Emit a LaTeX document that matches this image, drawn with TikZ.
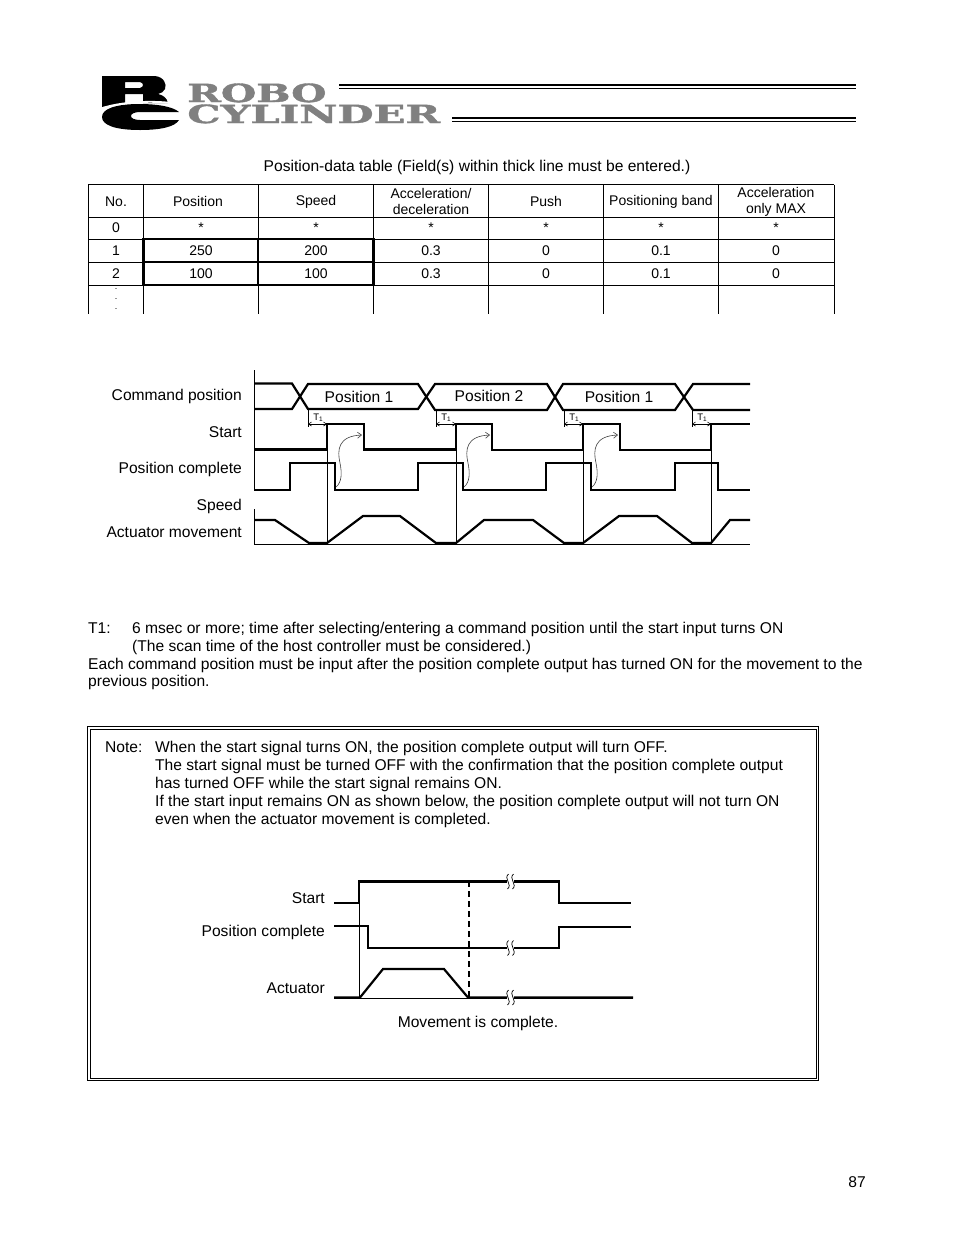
\documentclass[tikz,border=0pt]{standalone}
\usepackage{fontspec}
\setmainfont{Liberation Sans}
\newfontfamily\logofont[UprightFont=* Bold,FakeBold=1.5]{DejaVu Serif}
\usetikzlibrary{arrows.meta}
\definecolor{logogray}{gray}{0.5}
\tikzset{
 x=1pt,y=-1pt,
 txt/.style={inner sep=0pt,anchor=base west,font=\fontsize{15.6}{18}\selectfont},
 mid/.style={inner sep=0pt,font=\fontsize{15.6}{18}\selectfont},
 cell/.style={inner sep=0pt,align=center,font=\fontsize{14}{16}\selectfont},
 lab/.style={inner sep=0pt,anchor=base east,font=\fontsize{15.6}{18}\selectfont},
 tsub/.style={inner sep=0pt,font=\fontsize{9.5}{10}\selectfont},
 logotext/.style={inner sep=0pt,text=logogray,anchor=base west,font=\logofont\fontsize{25}{25}\selectfont},
 thin line/.style={line width=0.8pt,draw=black},
 grid line/.style={line width=1pt,draw=black},
 sig/.style={line width=2.2pt,draw=black,line join=miter},
 sigthick/.style={line width=2.6pt,draw=black},
 curvy/.style={line width=0.6pt,draw=black!75,-{Straight Barb[length=4pt,width=6pt]}},
 dim/.style={line width=0.6pt,draw=black,{Straight Barb[length=3pt,width=4pt]}-{Straight Barb[length=3pt,width=4pt]}},
}
\begin{document}
\begin{tikzpicture}
\useasboundingbox (0,0) rectangle (954,1235);
\fill[white] (0,0) rectangle (954,1235);
% logo
\fill[black,even odd rule] (102,76) -- (155,76) .. controls (164,77) and (167,84) .. (165,89) .. controls (164,92) and (161,93) .. (158,94) .. controls (163,95) and (167,98) .. (168,103) -- (143,103) -- (143,94) -- (125,94) -- (125,103) -- (102,107) -- cycle
 (125,82) -- (140,82) .. controls (144,83) and (144,87) .. (140,88) -- (125,88) -- cycle;
\fill[black] (179,112) .. controls (172,106) and (155,104) .. (140,104) .. controls (115,104) and (102,109) .. (102,117) .. controls (102,125) and (115,130) .. (140,130) .. controls (160,130) and (175,127) .. (179,120) -- (140,120) .. controls (128,120) and (128,112) .. (140,112) -- cycle;
\draw[white,line width=1.8pt] (100,109) .. controls (115,103) and (145,100) .. (172,103);
\node[logotext,xscale=1.62] (logoa) at (187,102) {ROBO};
\node[logotext,xscale=1.67] (logob) at (187,123) {CYLINDER};
\draw[line width=1.8pt] (339,85.2) -- (856,85.2);
\draw[line width=0.8pt] (339,88.6) -- (856,88.6);
\draw[line width=1.8pt] (452,118) -- (856,118);
\draw[line width=0.8pt] (452,121) -- (856,121);
% table
\node[mid] (ttl) at (477,167.5) {Position-data table (Field(s) within thick line must be entered.)};
\foreach \xx in {88,143,258,373,488,603,718,834} \draw[grid line] (\xx,184.5) -- (\xx,314);
\foreach \yy in {184.5,217,239,262,285} \draw[grid line] (88,\yy) -- (834,\yy);
\draw[sigthick] (143.5,239) rectangle (373.5,285);
\draw[sigthick] (143.5,262) -- (373.5,262) (258,239) -- (258,285);
\node[cell] (h0) at (116,201.5) {No.};
\node[cell] (h1) at (198,201.5) {Position};
\node[cell] (h2) at (316,201.5) {Speed};
\node[cell] (h3) at (431,201) {Acceleration/\\deceleration};
\node[cell] (h4) at (546,201.5) {Push};
\node[cell] (h5) at (661,201.5) {Positioning band};
\node[cell] (h6) at (776,201.5) {Acceleration\\only MAX};
\foreach \n/\t in {116/0,201/*,316/*,431/*,546/*,661/*,776/*} \node[cell] (r0c\n) at (\n,228) {\t};
\foreach \n/\t in {116/1,201/250,316/200,431/0.3,546/0,661/0.1,776/0} \node[cell] (r1c\n) at (\n,250.5) {\t};
\foreach \n/\t in {116/2,201/100,316/100,431/0.3,546/0,661/0.1,776/0} \node[cell] (r2c\n) at (\n,273.5) {\t};
\foreach \yy in {289,299,309} \node[inner sep=0pt,font=\fontsize{9}{9}\selectfont] (dot\yy) at (116,\yy) {.};
% timing labels
\node[lab] (l1) at (242,400) {Command position};
\node[lab] (l2) at (242,437) {Start};
\node[lab] (l3) at (242,473) {Position complete};
\node[lab] (l4) at (242,510) {Speed};
\node[lab] (l5) at (242,537) {Actuator movement};
\draw[thin line] (254.7,370) -- (254.7,491) (254.7,509) -- (254.7,544.5) -- (750,544.5);
% command
\draw[sig] (255,383.5) -- (292,383.5) -- (308,409) -- (418,409) -- (435,384) -- (547,384) -- (563,410) -- (675,410) -- (693,384) -- (750,384);
\draw[sig] (255,409) -- (292,409) -- (308,384) -- (418,384) -- (435,410) -- (547,410) -- (563,384) -- (675,384) -- (693,410) -- (750,410);
\node[mid] (p1) at (359,397) {Position 1};
\node[mid] (p2) at (489,395.5) {Position 2};
\node[mid] (p3) at (619,397) {Position 1};
% T1
\foreach \a/\b in {308/327,436/456,564/583,692/711}{
  \draw[thin line] (\a,409) -- (\a,427);
  \draw[dim] (\a,424) -- (\b,424);
  \node[tsub] (tn\a) at (\a+10,417.5) {T\raisebox{-1.5pt}{\fontsize{6.5}{7}\selectfont 1}};
}
% verticals
\foreach \xx in {327,456,583,711} \draw[thin line] (\xx,424) -- (\xx,544);
% start
\draw[sig] (255,449.5) -- (327,449.5) -- (327,424) -- (364,424) -- (364,449.5) -- (456,449.5) -- (456,424) -- (492,424) -- (492,450) -- (583,450) -- (583,424) -- (620,424) -- (620,450) -- (711,450) -- (711,424) -- (750,424);
% complete
\draw[sig] (255,490) -- (290,490) -- (290,463) -- (335,463) -- (335,490) -- (418,490) -- (418,463) -- (463,463) -- (463,490) -- (546,490) -- (546,463) -- (591,463) -- (591,490) -- (675,490) -- (675,463) -- (718,463) -- (718,490) -- (750,490);
% speed
\draw[sig] (255,520) -- (275,520) -- (309,543) -- (327,543) -- (363,516) -- (400,516) -- (436,543) -- (456,543) -- (484,520) -- (533,520) -- (564,543) -- (583,543) -- (619,516) -- (657,516) -- (692,543) -- (711,543) -- (730,520) -- (750,520);
% curves
\foreach \d in {0,128,256}{
  \draw[curvy] (336+\d,487) .. controls (342+\d,482) and (342+\d,473) .. (340+\d,463) .. controls (337+\d,450) and (338+\d,436) .. (362+\d,435);
}
% notes
\node[txt] (t1) at (88,633) {T1:};
\node[txt] (t2) at (132,633) {6 msec or more; time after selecting/entering a command position until the start input turns ON};
\node[txt] (t3) at (132,651) {(The scan time of the host controller must be considered.)};
\node[txt] (t4) at (88,669) {Each command position must be input after the position complete output has turned ON for the movement to the};
\node[txt] (t5) at (88,686) {previous position.};
% box
\draw[line width=1.2pt] (87.5,726.5) rectangle (818.5,1080.5);
\draw[line width=0.8pt] (90,729) rectangle (816.5,1078.5);
\node[txt] (n0) at (105,752) {Note:};
\node[txt] (n1) at (155,752) {When the start signal turns ON, the position complete output will turn OFF.};
\node[txt] (n2) at (155,770) {The start signal must be turned OFF with the confirmation that the position complete output};
\node[txt] (n3) at (155,788) {has turned OFF while the start signal remains ON.};
\node[txt] (n4) at (155,806) {If the start input remains ON as shown below, the position complete output will not turn ON};
\node[txt] (n5) at (155,824) {even when the actuator movement is completed.};
\node[lab] (b1) at (325,903) {Start};
\node[lab] (b2) at (325,936) {Position complete};
\node[lab] (b3) at (325,993) {Actuator};
\node[mid] (b4) at (478,1023.5) {Movement is complete.};
\node[mid] (pg) at (857,1182) {87};
% lower chart
\draw[thin line] (359,881) -- (359,997.5) (334,998) -- (633,998);
\draw[line width=2pt,dash pattern=on 6pt off 4pt] (468.5,881) -- (468.5,997);
\draw[sig] (334,903) -- (359,903) -- (359,881.5) -- (559,881.5) -- (559,903) -- (631,903);
\draw[sig] (334,926) -- (368,926) -- (368,948) -- (559,948) -- (559,927) -- (631,927);
\draw[sig] (334,997.5) -- (360,997.5) -- (383,969) -- (444,969) -- (468,997.5) -- (633,997.5);
\foreach \yy in {881.5,948,997.5}{
  \fill[white] (506.5,\yy-3) rectangle (513.5,\yy+3);
  \draw[line width=0.7pt] (508.5,\yy-7.5) .. controls (503,\yy-3) and (513,\yy+3) .. (507.5,\yy+7.5);
  \draw[line width=0.7pt] (513.5,\yy-7.5) .. controls (508,\yy-3) and (518,\yy+3) .. (512.5,\yy+7.5);
}
\end{tikzpicture}
\end{document}
